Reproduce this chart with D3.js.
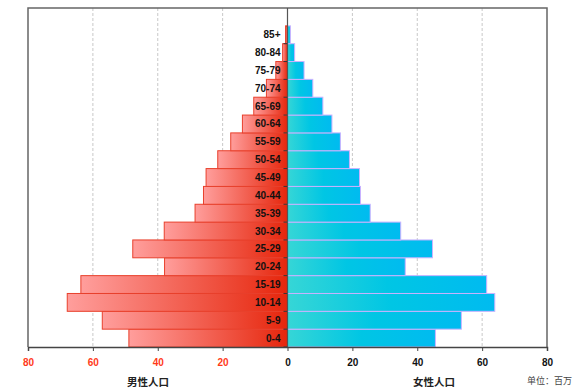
<!DOCTYPE html>
<html>
<head>
<meta charset="utf-8">
<script src="https://cdn.jsdelivr.net/npm/d3@7/dist/d3.min.js"></script>
<style>
  html, body { margin: 0; padding: 0; background: #fff; }
  svg { display: block; }
</style>
</head>
<body>
<svg id="chart" width="576" height="392"></svg>
<script>
const ageGroups = ["0-4","5-9","10-14","15-19","20-24","25-29","30-34","35-39","40-44","45-49","50-54","55-59","60-64","65-69","70-74","75-79","80-84","85+"];
const maleValues = [48.9, 57.1, 67.9, 63.7, 37.9, 47.7, 38.0, 28.5, 25.9, 25.1, 21.5, 17.5, 13.9, 10.4, 6.5, 3.6, 1.5, 0.6];
const femaleValues = [45.6, 53.6, 63.9, 61.4, 36.3, 44.7, 34.9, 25.5, 22.5, 22.2, 19.1, 16.3, 13.7, 10.9, 7.8, 5.1, 2.2, 0.9];
const tickValues = [-80, -60, -40, -20, 0, 20, 40, 60, 80];
const maleTitle = "男性人口";
const femaleTitle = "女性人口";
const unitText = "单位：百万";

const svg = d3.select("#chart");
const pLeft = 28, pRight = 547, pTop = 8, pBottom = 347;
const nSlots = ageGroups.length + 1;
const slot = (pBottom - pTop) / nSlots;

const x = d3.scaleLinear().domain([-80, 80]).range([pLeft, pRight]);
const y = d3.scaleBand().domain(ageGroups).range([pBottom, pTop + slot]).padding(0);

const defs = svg.append("defs");
const mg = defs.append("linearGradient").attr("id", "maleGrad").attr("x1", "0").attr("x2", "1").attr("y1", "0").attr("y2", "0");
mg.append("stop").attr("offset", "0%").attr("stop-color", "#ff9e9c");
mg.append("stop").attr("offset", "100%").attr("stop-color", "#e6260c");
const fg = defs.append("linearGradient").attr("id", "femaleGrad").attr("x1", "0").attr("x2", "1").attr("y1", "0").attr("y2", "0");
fg.append("stop").attr("offset", "0%").attr("stop-color", "#36d6d6");
fg.append("stop").attr("offset", "50%").attr("stop-color", "#00c6e4");
fg.append("stop").attr("offset", "100%").attr("stop-color", "#00bbf0");

// grid lines
svg.append("g").selectAll("line").data(tickValues.filter(d => d !== 0 && Math.abs(d) !== 80)).join("line")
  .attr("x1", d => x(d)).attr("x2", d => x(d))
  .attr("y1", pTop).attr("y2", pBottom)
  .attr("stroke", "#c8c8c8").attr("stroke-width", 1).attr("stroke-dasharray", "3,2");

// male bars
svg.append("g").selectAll("rect").data(ageGroups).join("rect")
  .attr("x", (d, i) => x(-maleValues[i]))
  .attr("width", (d, i) => x(0) - x(-maleValues[i]))
  .attr("y", d => y(d))
  .attr("height", y.bandwidth())
  .attr("fill", "url(#maleGrad)")
  .attr("stroke", "#e8402c").attr("stroke-width", 1);

// female bars
svg.append("g").selectAll("rect").data(ageGroups).join("rect")
  .attr("x", x(0))
  .attr("width", (d, i) => x(femaleValues[i]) - x(0))
  .attr("y", d => y(d))
  .attr("height", y.bandwidth())
  .attr("fill", "url(#femaleGrad)")
  .attr("stroke", "#c9b2ff").attr("stroke-width", 1);

// frame
svg.append("path")
  .attr("d", `M${pLeft},${pBottom}V${pTop}H${pRight}V${pBottom}`)
  .attr("fill", "none").attr("stroke", "#666").attr("stroke-width", 1.5);

// y axis at zero
const yAxis = d3.axisLeft(y).tickSize(4).tickFormat("");
const yg = svg.append("g").attr("transform", `translate(${x(0)},0)`).call(yAxis);
yg.select(".domain").remove();
yg.selectAll(".tick line").attr("stroke", "#333").attr("transform", `translate(0,${y.bandwidth() / 2})`);
svg.append("line").attr("x1", x(0)).attr("x2", x(0)).attr("y1", pTop).attr("y2", pBottom)
  .attr("stroke", "#555").attr("stroke-width", 1.2);

// category labels
svg.append("g").selectAll("text").data(ageGroups).join("text")
  .attr("x", x(0) - 7)
  .attr("y", d => y(d) + y.bandwidth() / 2)
  .attr("dy", "0.35em")
  .attr("text-anchor", "end")
  .attr("font-family", "Liberation Sans, Arial, sans-serif")
  .attr("font-weight", "bold")
  .attr("font-size", 10)
  .attr("fill", "#111")
  .text(d => d);

// x axis
const xAxis = d3.axisBottom(x).tickValues(tickValues).tickSize(4).tickFormat(d => Math.abs(d));
const xg = svg.append("g").attr("transform", `translate(0,${pBottom})`).call(xAxis);
xg.select(".domain").attr("stroke", "#444").attr("stroke-width", 1.5);
xg.selectAll(".tick line").attr("stroke", "#444");
xg.selectAll(".tick text")
  .attr("y", 12)
  .attr("font-family", "Liberation Sans, Arial, sans-serif")
  .attr("font-weight", "bold")
  .attr("font-size", 10)
  .attr("fill", d => d < 0 ? "#ff3a1a" : "#111");

// titles
svg.append("text").attr("x", 148).attr("y", 386).attr("text-anchor", "middle")
  .attr("font-family", "Noto Sans CJK SC, sans-serif").attr("font-weight", "bold").attr("font-size", 10.5)
  .attr("fill", "#222").text(maleTitle);
svg.append("text").attr("x", 434).attr("y", 386).attr("text-anchor", "middle")
  .attr("font-family", "Noto Sans CJK SC, sans-serif").attr("font-weight", "bold").attr("font-size", 10.5)
  .attr("fill", "#222").text(femaleTitle);
svg.append("text").attr("x", 572).attr("y", 384).attr("text-anchor", "end")
  .attr("font-family", "Noto Sans CJK SC, sans-serif").attr("font-size", 9)
  .attr("fill", "#444").text(unitText);
</script>
</body>
</html>
